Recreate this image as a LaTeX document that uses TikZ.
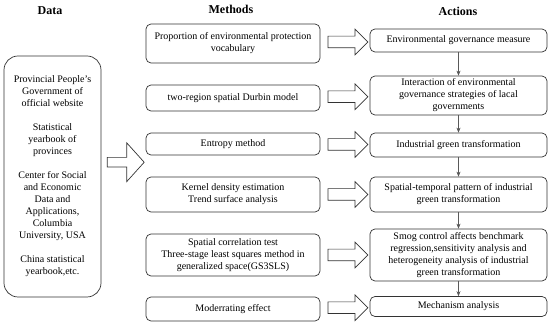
\documentclass[tikz,border=0pt]{standalone}
\usepackage{fontspec}
\setmainfont{LiberationSerif}[Extension=.ttf, UprightFont=*-Regular, BoldFont=*-Bold, ItalicFont=*-Italic, BoldItalicFont=*-BoldItalic]
\usetikzlibrary{arrows.meta,positioning,calc,shapes.arrows}

\begin{document}
\begin{tikzpicture}[
        x=1pt, y=-1pt,
        font=\rmfamily\fontsize{10}{12}\selectfont,
        box/.style={draw=black!80, line width=0.7pt, rounded corners=5pt, align=center, inner sep=2pt},
        mbox/.style={box, minimum width=174pt},
        abox/.style={box, minimum width=177pt},
        head/.style={font=\rmfamily\fontsize{12}{14}\selectfont\bfseries},
        hollow/.style={single arrow, draw=black!80, line width=0.7pt, inner xsep=0pt, inner ysep=5.5pt,
            single arrow head extend=7pt, single arrow tip angle=90, minimum height=40pt},
        arr/.style={-{Stealth[length=5pt,width=4pt]}, black!65, line width=0.6pt}
    ]
        \useasboundingbox (0,0) rectangle (550,328);

        % column titles
        \node[head] (tdata) at (50,11) {Data};
        \node[head] (tmeth) at (231,9) {Methods};
        \node[head] (tact) at (458,11) {Actions};

        % data sources
        \node[box, rounded corners=14pt, minimum width=97pt, minimum height=241pt] (data) at (52.5,176.5)
            {Provincial People’s\\Government of\\official website\\[12pt]Statistical\\yearbook of\\provinces\\[12pt]Center for Social\\and Economic\\Data and\\Applications,\\Columbia\\University, USA\\[12pt]China statistical\\yearbook,etc.};

        % methods
        \node[mbox, minimum height=39pt] (m1) at (233,43.5) {Proportion of environmental protection\\vocabulary};
        \node[mbox, minimum height=26pt] (m2) at (233,98) {two-region spatial Durbin model};
        \node[mbox, minimum height=22pt] (m3) at (233,144) {Entropy method};
        \node[mbox, minimum height=35pt] (m4) at (233,194.5) {Kernel density estimation\\Trend surface analysis};
        \node[mbox, minimum height=42pt] (m5) at (233,255) {Spatial correlation test\\Three-stage least squares method in\\generalized space(GS3SLS)};
        \node[mbox, minimum height=24pt] (m6) at (233,309) {Moderrating effect};

        % actions
        \node[abox, minimum height=23pt] (a1) at (458.5,40.5) {Environmental governance measure};
        \node[abox, minimum height=39pt] (a2) at (458.5,95.5) {Interaction of environmental\\governance strategies of lacal\\governments};
        \node[abox, minimum height=24pt] (a3) at (458.5,145) {Industrial green transformation};
        \node[abox, minimum height=35pt] (a4) at (458.5,194.5) {Spatial-temporal pattern of industrial\\green transformation};
        \node[abox, minimum height=52pt] (a5) at (458.5,255) {Smog control affects benchmark\\regression,sensitivity analysis and\\heterogeneity analysis of industrial\\green transformation};
        \node[abox, minimum height=20pt] (a6) at (458.5,306.5) {Mechanism analysis};

        % block arrows
        \node[hollow, inner ysep=4.5pt, single arrow head extend=14.5pt, single arrow tip angle=96,
            minimum height=37pt, yshift=-2pt] (big) at ($(data.east)!0.5!(m3.west)$) {};
        \foreach \i in {1,...,6}
            \node[hollow] (h\i) at ($(m\i.east)!0.5!(a\i.west)$) {};

        % flow of actions
        \foreach \i/\j in {1/2,2/3,3/4,4/5,5/6}
            \draw[arr] (a\i) -- (a\j);
    \end{tikzpicture}
\end{document}
